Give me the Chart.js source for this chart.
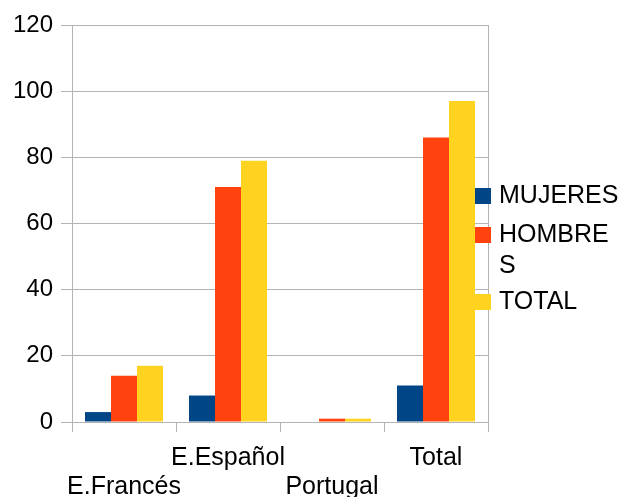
<!DOCTYPE html>
<html>
<head>
<meta charset="utf-8">
<script src="https://cdn.jsdelivr.net/npm/chart.js"></script>
<style>
  html, body { margin: 0; padding: 0; background: #fff; }
  #wrap { width: 625px; height: 497px; position: relative; }
</style>
</head>
<body>
<div id="wrap"><canvas id="chart" width="625" height="497"></canvas></div>
<script>
// datos
const categories = ['E.Francés', 'E.Español', 'Portugal', 'Total'];
const mujeres = [3, 8, 0, 11];
const hombres = [14, 71, 1, 86];
const total = [17, 79, 1, 97];
const seriesNames = ['MUJERES', 'HOMBRES', 'TOTAL'];
const legendLines = [['MUJERES'], ['HOMBRE', 'S'], ['TOTAL']];
const yTicks = [0, 20, 40, 60, 80, 100, 120];

const colors = ['#004586', '#ff420e', '#ffd320'];
const gridColor = '#b3b3b3';
const FONT = '"Liberation Sans", Arial, sans-serif';

// leyenda a mano (HOMBRES va partido en dos líneas)
const sideLegend = {
    id: 'sideLegend',
    afterDraw(chart) {
        const ctx = chart.ctx;
        const area = chart.chartArea;
        ctx.save();
        // borde derecho del área
        ctx.strokeStyle = gridColor;
        ctx.lineWidth = 1;
        ctx.beginPath();
        ctx.moveTo(area.right + 0.5, area.top);
        ctx.lineTo(area.right + 0.5, area.bottom);
        ctx.stroke();

        ctx.font = '25px ' + FONT;
        ctx.textBaseline = 'middle';
        ctx.fillStyle = '#000';
        const boxX = 475, textX = 499, lh = 31;
        const rowY = [196, 235, 302];
        legendLines.forEach((lines, i) => {
            ctx.fillStyle = colors[i];
            ctx.fillRect(boxX, rowY[i] - 8, 16, 16);
            ctx.fillStyle = '#000';
            lines.forEach((t, j) => ctx.fillText(t, textX, rowY[i] + j * lh));
        });
        ctx.restore();
    }
};

new Chart(document.getElementById('chart'), {
    type: 'bar',
    data: {
        labels: categories,
        datasets: [mujeres, hombres, total].map((d, i) => ({
            label: seriesNames[i],
            data: d,
            backgroundColor: colors[i],
            borderWidth: 0,
            categoryPercentage: 0.75,
            barPercentage: 1
        }))
    },
    options: {
        responsive: false,
        animation: false,
        devicePixelRatio: 1,
        layout: { padding: { top: 25, right: 137, left: 0, bottom: 0 } },
        plugins: {
            legend: { display: false },
            tooltip: { enabled: false }
        },
        scales: {
            x: {
                offset: true,
                grid: {
                    offset: true,
                    drawOnChartArea: false,
                    color: gridColor,
                    tickLength: 10
                },
                border: { color: gridColor },
                ticks: {
                    color: '#000',
                    font: { family: FONT, size: 25, lineHeight: 1.17 },
                    maxRotation: 0,
                    autoSkip: false,
                    padding: 11,
                    callback: (v, i) => (i % 2 === 0 ? ['', categories[i]] : [categories[i]])
                },
                afterFit: (s) => { s.height = 75; }
            },
            y: {
                min: 0,
                max: 120,
                afterBuildTicks: (s) => { s.ticks = yTicks.map(v => ({ value: v })); },
                grid: { color: gridColor, tickLength: 11 },
                border: { color: gridColor },
                ticks: {
                    color: '#000',
                    font: { family: FONT, size: 24 },
                    padding: 8
                },
                afterFit: (s) => { s.width = 72; }
            }
        }
    },
    plugins: [sideLegend]
});
</script>
</body>
</html>
